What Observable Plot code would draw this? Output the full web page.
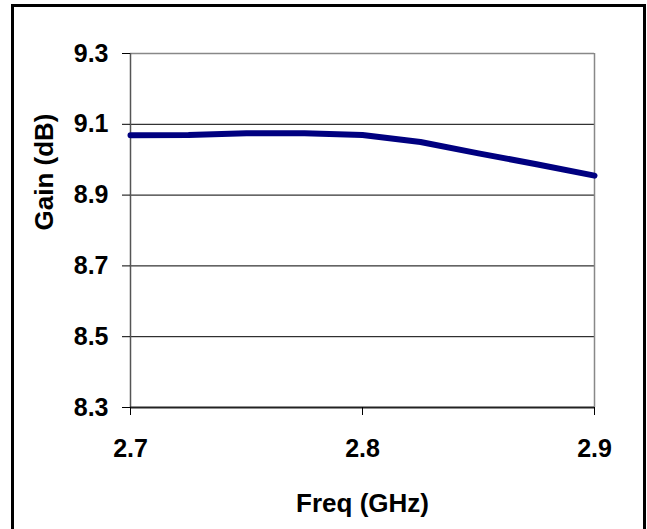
<!DOCTYPE html>
<html>
<head>
<meta charset="utf-8">
<script src="https://cdn.jsdelivr.net/npm/d3@7"></script>
<script src="https://cdn.jsdelivr.net/npm/@observablehq/plot@0.6"></script>
<style>
  html, body { margin: 0; padding: 0; background: #fff; overflow: hidden; }
  #wrap { position: relative; width: 647px; height: 529px; }
  #border { position: absolute; left: 11px; top: 4px; width: 629px; height: 540px; border: 3px solid #000; box-sizing: content-box; pointer-events: none; }
  #chart { position: absolute; left: 0; top: 0; }
  #chart svg g[aria-label="y-axis tick label"],
  #chart svg g[aria-label="x-axis tick label"] { font-size: 25px !important; font-weight: bold; }
</style>
</head>
<body>
<div id="wrap">
  <div id="chart"></div>
  <div id="border"></div>
</div>
<script>
const freq = [2.7, 2.725, 2.75, 2.775, 2.8, 2.825, 2.85, 2.875, 2.9];
const gain = [9.069, 9.07, 9.075, 9.075, 9.07, 9.05, 9.018, 8.987, 8.955];
const xTicks = [2.7, 2.8, 2.9];
const yTicks = [8.3, 8.5, 8.7, 8.9, 9.1, 9.3];
const yGrid = [8.5, 8.7, 8.9, 9.1];
const xLabel = "Freq (GHz)";
const yLabel = "Gain (dB)";

const data = freq.map((f, i) => ({freq: f, gain: gain[i]}));

const chart = Plot.plot({
  width: 647,
  height: 529,
  marginTop: 53,
  marginRight: 53,
  marginBottom: 122,
  marginLeft: 130,
  style: {fontFamily: "'Liberation Sans', Arial, sans-serif", fontWeight: "bold", background: "white", color: "black", overflow: "visible"},
  x: {domain: [2.7, 2.9]},
  y: {domain: [8.3, 9.3]},
  marks: [
    Plot.ruleY(yGrid, {stroke: "#000", strokeWidth: 1}),
    Plot.ruleY([9.3], {stroke: "#888", strokeWidth: 1.5}),
    Plot.ruleX([2.9], {stroke: "#888", strokeWidth: 1.5}),
    Plot.ruleX([2.7], {stroke: "#555", strokeWidth: 1.5}),
    Plot.ruleY([8.3], {stroke: "#222", strokeWidth: 1.8}),
    Plot.axisY({ticks: yTicks, tickFormat: d3.format(".1f"), tickSize: 8, tickPadding: 14, fontSize: 25, fontWeight: "bold", label: null}),
    Plot.axisX({ticks: xTicks, tickFormat: d3.format(".1f"), tickSize: 8, tickPadding: 24, fontSize: 25, fontWeight: "bold", label: null}),
    Plot.lineY(data, {x: "freq", y: "gain", stroke: "#000080", strokeWidth: 6, strokeLinejoin: "round"}),
    Plot.text([xLabel], {text: d => d, frameAnchor: "bottom", dy: 96, lineAnchor: "middle", fontSize: 26, fontWeight: "bold", fill: "black"}),
    Plot.text([yLabel], {text: d => d, frameAnchor: "left", dx: -86, rotate: -90, lineAnchor: "middle", fontSize: 26, fontWeight: "bold", fill: "black"})
  ]
});
document.getElementById("chart").appendChild(chart);
</script>
</body>
</html>
